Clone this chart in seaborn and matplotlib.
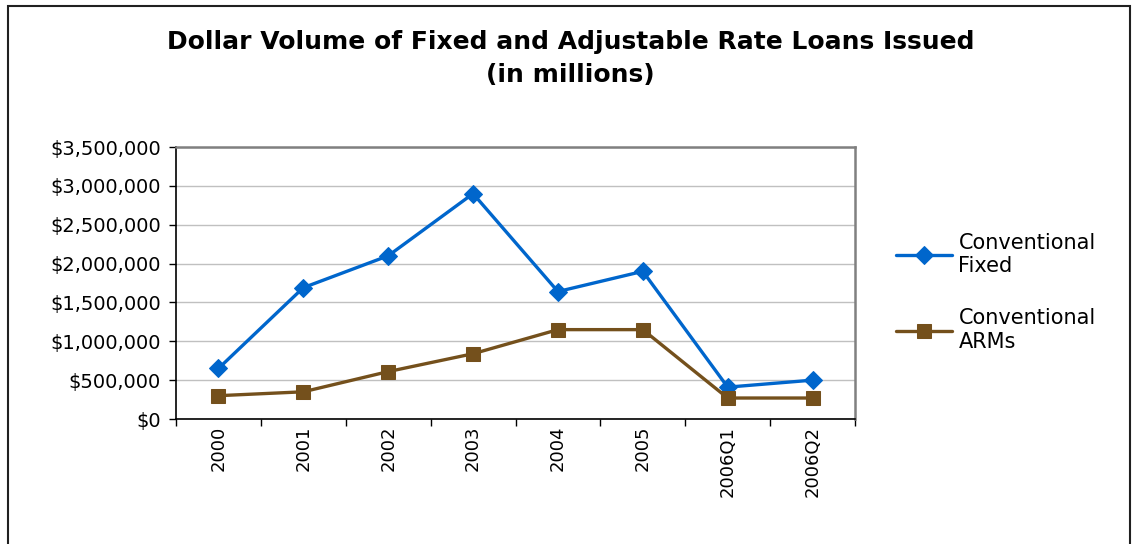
import pandas as pd
import seaborn as sns
import matplotlib.pyplot as plt
from matplotlib.patches import Rectangle
from matplotlib.ticker import FuncFormatter, MultipleLocator, FixedLocator


# Data

periods = ["2000", "2001", "2002", "2003", "2004", "2005", "2006Q1", "2006Q2"]
fixed = [650000, 1690000, 2100000, 2900000, 1640000, 1900000, 410000, 500000]
arms = [300000, 350000, 610000, 840000, 1150000, 1150000, 270000, 270000]

fixed_label = "Conventional\nFixed"
arms_label = "Conventional\nARMs"

df = pd.DataFrame({"period": periods, "fixed": fixed, "arms": arms})


# Figure

sns.set_style("white")
plt.rcParams["font.family"] = ["DejaVu Sans"]
plt.rcParams["text.color"] = "black"
plt.rcParams["xtick.color"] = "black"
plt.rcParams["ytick.color"] = "black"

fig = plt.figure(figsize=(11.36, 5.44), dpi=100)
ax = fig.add_axes([176 / 1136, 1 - 419 / 544, 679 / 1136, 272 / 544])

sns.lineplot(data=df, x="period", y="fixed", ax=ax, sort=False,
             color="#0066CC", linewidth=2.4, marker="D", markersize=9,
             markeredgecolor="#0066CC", label=fixed_label)
sns.lineplot(data=df, x="period", y="arms", ax=ax, sort=False,
             color="#74501C", linewidth=2.4, marker="s", markersize=10,
             markeredgecolor="#74501C", label=arms_label)

# axes
ax.set_xlim(-0.5, len(periods) - 0.5)
ax.set_ylim(0, 3500000)
ax.yaxis.set_major_locator(MultipleLocator(500000))
ax.yaxis.set_major_formatter(FuncFormatter(lambda v, p: f"${v:,.0f}"))
ax.grid(axis="y", color="#C0C0C0", linewidth=1)
ax.set_xlabel("")
ax.set_ylabel("")

ax.set_xticks(range(len(periods)))
ax.set_xticklabels(periods, rotation=90, fontsize=13)
ax.xaxis.set_minor_locator(FixedLocator([i - 0.5 for i in range(len(periods) + 1)]))
ax.tick_params(axis="x", which="major", length=0, pad=5)
ax.tick_params(axis="x", which="minor", length=5, width=1, color="black", direction="out")
ax.tick_params(axis="y", length=5, width=1, color="black", direction="out", labelsize=14, pad=6)
ax.tick_params(bottom=True, left=True, which="both")

for side in ["left", "bottom"]:
    ax.spines[side].set_color("black")
    ax.spines[side].set_linewidth(1.2)
for side in ["top", "right"]:
    ax.spines[side].set_color("#808080")
    ax.spines[side].set_linewidth(1.8)

# legend
leg = ax.legend(loc="upper left", bbox_to_anchor=(1.048, 0.715), frameon=False,
                fontsize=15, handlelength=2.7, handletextpad=0.3, labelspacing=1.55,
                borderaxespad=0)
for t in leg.get_texts():
    t.set_linespacing(1.2)

# title
fig.text(0.502, 0.945, "Dollar Volume of Fixed and Adjustable Rate Loans Issued\n(in millions)",
         ha="center", va="top", fontsize=18, fontweight="bold", linespacing=1.5)

# outer chart frame
fig.patches.append(Rectangle((8 / 1136, -0.2), 1122 / 1136, 1.2 - 6 / 544,
                             transform=fig.transFigure, fill=False,
                             edgecolor="#202020", linewidth=1.5))

plt.savefig("out.png", dpi=100)
